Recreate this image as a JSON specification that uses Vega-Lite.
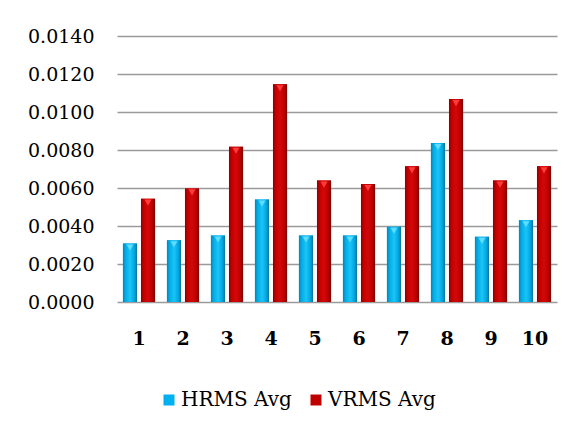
{
  "$schema": "https://vega.github.io/schema/vega-lite/v6.json",
  "width": 440,
  "height": 266,
  "autosize": {"type": "none"},
  "padding": {"left": 117, "top": 36, "right": 20, "bottom": 126},
  "background": "white",
  "config": {"view": {"stroke": null}, "font": "DejaVu Serif"},
  "data": {
    "values": [
      {"pt": 1, "series": "HRMS Avg", "v": 0.00308},
      {"pt": 1, "series": "VRMS Avg", "v": 0.00544},
      {"pt": 2, "series": "HRMS Avg", "v": 0.00325},
      {"pt": 2, "series": "VRMS Avg", "v": 0.00598},
      {"pt": 3, "series": "HRMS Avg", "v": 0.0035},
      {"pt": 3, "series": "VRMS Avg", "v": 0.00817},
      {"pt": 4, "series": "HRMS Avg", "v": 0.00539},
      {"pt": 4, "series": "VRMS Avg", "v": 0.01146},
      {"pt": 5, "series": "HRMS Avg", "v": 0.0035},
      {"pt": 5, "series": "VRMS Avg", "v": 0.00639},
      {"pt": 6, "series": "HRMS Avg", "v": 0.0035},
      {"pt": 6, "series": "VRMS Avg", "v": 0.00621},
      {"pt": 7, "series": "HRMS Avg", "v": 0.00396},
      {"pt": 7, "series": "VRMS Avg", "v": 0.00714},
      {"pt": 8, "series": "HRMS Avg", "v": 0.00837},
      {"pt": 8, "series": "VRMS Avg", "v": 0.01068},
      {"pt": 9, "series": "HRMS Avg", "v": 0.00343},
      {"pt": 9, "series": "VRMS Avg", "v": 0.00639},
      {"pt": 10, "series": "HRMS Avg", "v": 0.0043},
      {"pt": 10, "series": "VRMS Avg", "v": 0.00714}
    ]
  },
  "encoding": {
    "x": {
      "field": "pt",
      "type": "ordinal",
      "scale": {"paddingInner": 0.27, "paddingOuter": 0.135},
      "axis": {
        "title": null,
        "labelAngle": 0,
        "labelFont": "DejaVu Serif",
        "labelFontSize": 19,
        "labelFontWeight": "bold",
        "labelColor": "#000000",
        "labelPadding": 27,
        "ticks": false,
        "domain": false
      }
    },
    "xOffset": {
      "field": "series",
      "type": "nominal",
      "scale": {"paddingInner": 0.22, "paddingOuter": 0}
    },
    "y": {
      "field": "v",
      "type": "quantitative",
      "scale": {"domain": [0, 0.014]},
      "axis": {
        "title": null,
        "values": [0, 0.002, 0.004, 0.006, 0.008, 0.01, 0.012, 0.014],
        "format": ".4f",
        "labelFont": "DejaVu Serif",
        "labelFontSize": 19,
        "labelColor": "#000000",
        "labelPadding": 23,
        "ticks": false,
        "domain": false,
        "gridColor": "#9a9a9a",
        "gridWidth": 1.5
      }
    }
  },
  "layer": [
    {
      "mark": {"type": "bar"},
      "encoding": {
        "color": {
          "field": "series",
          "type": "nominal",
          "scale": {"domain": ["HRMS Avg", "VRMS Avg"], "range": ["#00b0f0", "#c00000"]},
          "legend": {
            "title": null,
            "orient": "none",
            "legendX": 42,
            "legendY": 354,
            "direction": "horizontal",
            "symbolType": "square",
            "symbolSize": 121,
            "symbolStrokeWidth": 0,
            "labelFont": "DejaVu Serif",
            "labelFontSize": 20,
            "labelColor": "#000000",
            "labelOffset": 2,
            "columnPadding": 14
          }
        }
      }
    },
    {
      "transform": [{"filter": "datum.series === 'HRMS Avg'"}],
      "mark": {
        "type": "bar",
        "color": {
          "gradient": "linear", "x1": 0, "y1": 0, "x2": 1, "y2": 0,
          "stops": [
            {"offset": 0, "color": "#0784b5"},
            {"offset": 0.2, "color": "#00aee8"},
            {"offset": 0.5, "color": "#1cc4f7"},
            {"offset": 0.8, "color": "#00a9e2"},
            {"offset": 1, "color": "#05729c"}
          ]
        }
      }
    },
    {
      "transform": [{"filter": "datum.series === 'VRMS Avg'"}],
      "mark": {
        "type": "bar",
        "color": {
          "gradient": "linear", "x1": 0, "y1": 0, "x2": 1, "y2": 0,
          "stops": [
            {"offset": 0, "color": "#8c0000"},
            {"offset": 0.2, "color": "#c40000"},
            {"offset": 0.5, "color": "#d40808"},
            {"offset": 0.8, "color": "#bb0000"},
            {"offset": 1, "color": "#7a0000"}
          ]
        }
      }
    },
    {
      "mark": {"type": "point", "shape": "triangle-down", "filled": true, "size": 50, "yOffset": 4, "opacity": 1, "strokeWidth": 0},
      "encoding": {
        "fill": {
          "field": "series",
          "type": "nominal",
          "scale": {"domain": ["HRMS Avg", "VRMS Avg"], "range": ["#5fdcff", "#ff3a3a"]},
          "legend": null
        }
      }
    }
  ]
}
